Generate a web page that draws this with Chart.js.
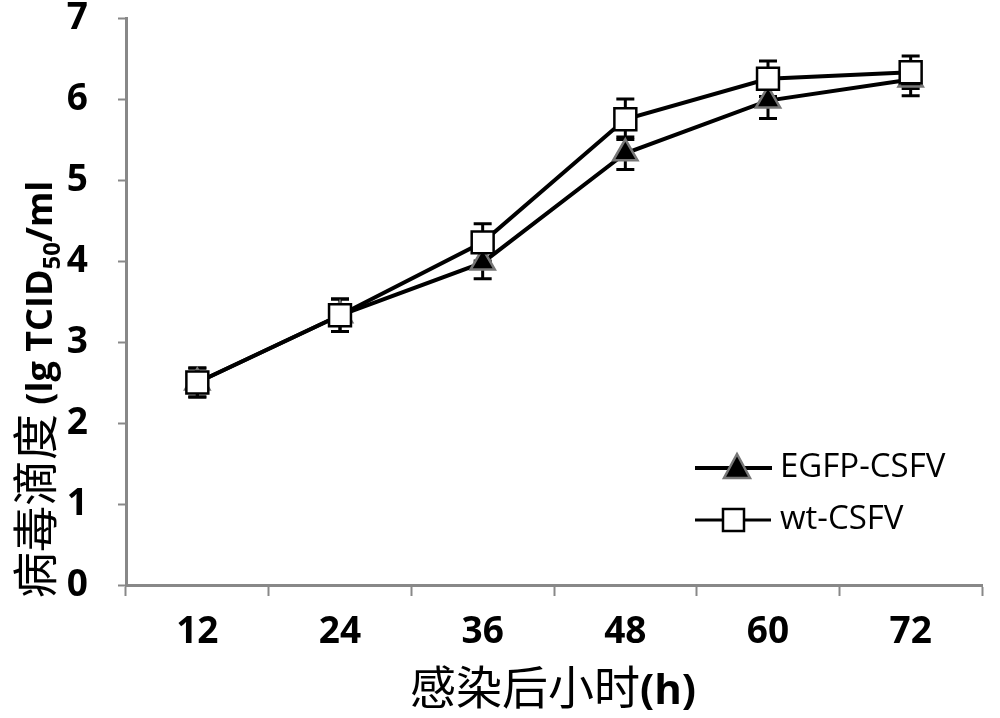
<!DOCTYPE html>
<html><head><meta charset="utf-8">
<script src="https://cdn.jsdelivr.net/npm/chart.js@4/dist/chart.umd.min.js"></script>
<style>html,body{margin:0;padding:0;background:#fff}#wrap{width:1000px;height:718px}</style>
</head><body><div id="wrap"><canvas id="c" width="1000" height="718"></canvas></div>
<script>
const categories = ["12","24","36","48","60","72"];
const egfpValues = [2.5, 3.33, 3.98, 5.33, 5.98, 6.24];
const egfpErrors = [0.18, 0.2, 0.2, 0.2, 0.22, 0.2];
const wtValues = [2.5, 3.33, 4.23, 5.75, 6.25, 6.33];
const wtErrors = [0.18, 0.2, 0.23, 0.25, 0.22, 0.2];
const yTicks = [0,1,2,3,4,5,6,7];
const seriesNames = ["EGFP-CSFV","wt-CSFV"];

const numFont = '"Open Sans","Noto Sans",sans-serif';
const cjk = '"Noto Sans CJK SC","Noto Sans",sans-serif';

const errorBars = {
  id:'errorBars',
  beforeDatasetsDraw(chart){
    const ctx=chart.ctx, y=chart.scales.y;
    ctx.save(); ctx.strokeStyle='#000'; ctx.lineWidth=3;
    chart.data.datasets.forEach((ds,i)=>{
      const meta=chart.getDatasetMeta(i);
      meta.data.forEach((pt,j)=>{
        const v=ds.data[j], e=ds.errors[j];
        const x=pt.x, yt=y.getPixelForValue(v+e), yb=y.getPixelForValue(v-e);
        ctx.beginPath(); ctx.moveTo(x,yt); ctx.lineTo(x,yb);
        ctx.moveTo(x-9,yt); ctx.lineTo(x+9,yt);
        ctx.moveTo(x-9,yb); ctx.lineTo(x+9,yb); ctx.stroke();
      });
    });
    ctx.restore();
  }
};

const decor = {
  id:'decor',
  afterDraw(chart){
    const ctx=chart.ctx; ctx.save();
    ctx.fillStyle='#000'; ctx.textBaseline='alphabetic';
    // x title
    const p1='感染后小时', p2='(h)';
    ctx.font='46px '+cjk; const w1=ctx.measureText(p1).width;
    let sx=410;
    ctx.fillText(p1,sx,704);
    ctx.font='bold 42px '+numFont; ctx.fillText(p2,sx+w1,704);
    // y title rotated
    ctx.translate(52,598); ctx.rotate(-Math.PI/2);
    const parts=[['病毒滴度','46px '+cjk,0],[' (lg TCID','bold 36px '+numFont,0],['50','bold 24px '+numFont,8],['/ml','bold 36px '+numFont,0]];
    let cx=0;
    parts.forEach(p=>{ctx.font=p[1]; ctx.fillText(p[0],cx,p[2]); cx+=ctx.measureText(p[0]).width;});
    ctx.setTransform(1,0,0,1,0,0);
    // legend
    const lf='33px "Open Sans","Noto Sans",sans-serif';
    ctx.strokeStyle='#000'; ctx.lineWidth=4;
    ctx.beginPath(); ctx.moveTo(695,468); ctx.lineTo(772,468); ctx.stroke();
    ctx.beginPath(); ctx.moveTo(737,454); ctx.lineTo(750,478); ctx.lineTo(724,478); ctx.closePath();
    ctx.fillStyle='#000'; ctx.fill(); ctx.strokeStyle='#777'; ctx.lineWidth=2.5; ctx.stroke();
    ctx.strokeStyle='#000'; ctx.lineWidth=3;
    ctx.beginPath(); ctx.moveTo(695,520); ctx.lineTo(771,520); ctx.stroke();
    ctx.fillStyle='#fff'; ctx.fillRect(723,509,21,22); ctx.lineWidth=2.5; ctx.strokeRect(723,509,21,22);
    ctx.fillStyle='#000'; ctx.font=lf; ctx.textBaseline='middle';
    ctx.fillText(seriesNames[0],780,468);
    ctx.fillText(seriesNames[1],780,520);
    ctx.restore();
  }
};

new Chart(document.getElementById('c'),{
  type:'line',
  data:{labels:categories,datasets:[
    {label:seriesNames[0],data:egfpValues,errors:egfpErrors,order:1,borderColor:'#000',borderWidth:4,
     pointStyle:'triangle',pointRadius:14,pointBackgroundColor:'#000',pointBorderColor:'#777',pointBorderWidth:2.5,tension:0},
    {label:seriesNames[1],data:wtValues,errors:wtErrors,order:0,borderColor:'#000',borderWidth:4,
     pointStyle:'rect',pointRadius:15.5,pointBackgroundColor:'#fff',pointBorderColor:'#000',pointBorderWidth:2.5,tension:0}
  ]},
  options:{
    responsive:false,animation:false,
    layout:{padding:{top:17,right:11,left:0,bottom:0}},
    plugins:{legend:{display:false},tooltip:{enabled:false}},
    scales:{
      x:{type:'category',offset:true,
         grid:{display:true,drawOnChartArea:false,offset:true,color:'#888',tickLength:11,tickWidth:2},
         border:{display:true,color:'#888',width:3},
         ticks:{color:'#000',font:{family:numFont,size:37,weight:'bold'},padding:14},
         afterFit(s){s.height=133; s.paddingLeft=0; s.paddingRight=0;}},
      y:{min:0,max:7,
         afterBuildTicks(s){s.ticks=yTicks.map(v=>({value:v}));},
         grid:{display:true,drawOnChartArea:false,color:'#888',tickLength:8,tickWidth:2},
         border:{display:true,color:'#888',width:3},
         ticks:{color:'#000',font:{family:numFont,size:37,weight:'bold'},padding:30},
         afterFit(s){s.width=126; s.paddingTop=0; s.paddingBottom=0;}}
    }
  },
  plugins:[errorBars,decor]
});
</script></body></html>
